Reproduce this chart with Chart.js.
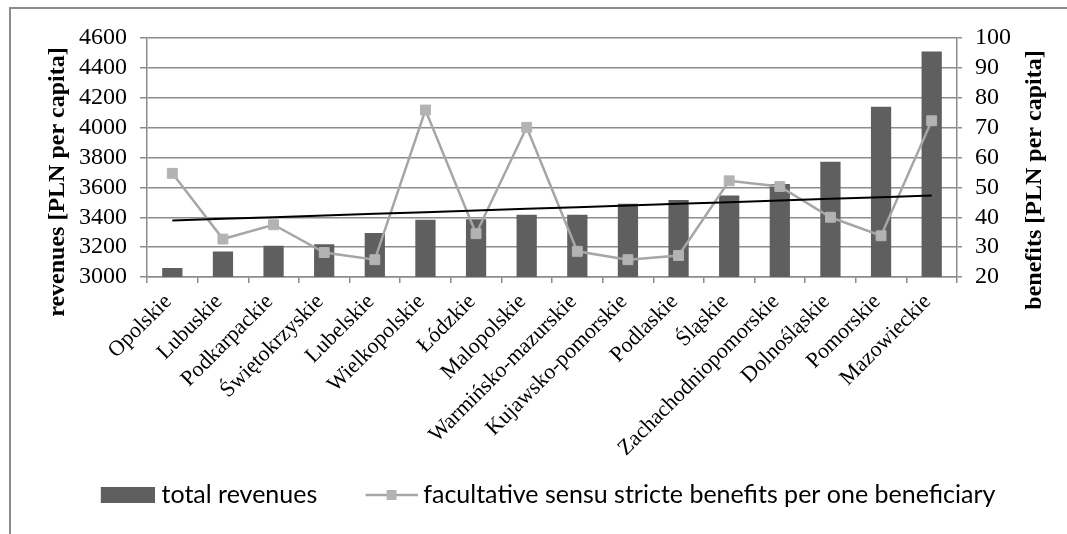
<!DOCTYPE html>
<html>
<head>
<meta charset="utf-8">
<script src="https://cdn.jsdelivr.net/npm/chart.js@4.4.1/dist/chart.umd.min.js"></script>
<style>
  html, body { margin: 0; padding: 0; background: #ffffff; }
  #wrap { position: relative; width: 1067px; height: 534px; }
</style>
</head>
<body>
<div id="wrap"><canvas id="chart"></canvas></div>
<script>
// Voivodeships, ordered by total revenues
const regions = [
  'Opolskie', 'Lubuskie', 'Podkarpackie', 'Świętokrzyskie', 'Lubelskie',
  'Wielkopolskie', 'Łódzkie', 'Malopolskie', 'Warmińsko-mazurskie',
  'Kujawsko-pomorskie', 'Podlaskie', 'Śląskie', 'Zachachodniopomorskie',
  'Dolnośląskie', 'Pomorskie', 'Mazowieckie'
];

// total revenues [PLN per capita]
const totalRevenues = [
  3060, 3171, 3209, 3220, 3294, 3383, 3387, 3416,
  3416, 3490, 3516, 3545, 3623, 3772, 4140, 4509
];

// facultative sensu stricte benefits per one beneficiary [PLN per capita]
const benefitsPerBeneficiary = [
  54.7, 32.7, 37.5, 28.2, 25.8, 75.9, 34.5, 70.1,
  28.6, 25.8, 27.2, 52.2, 50.3, 40.0, 33.8, 72.3
];

const revenueTicks = [3000, 3200, 3400, 3600, 3800, 4000, 4200, 4400, 4600];
const benefitTicks = [20, 30, 40, 50, 60, 70, 80, 90, 100];

const seriesNames = ['total revenues', 'facultative sensu stricte benefits per one beneficiary'];
const axisTitles = ['revenues [PLN per capita]', 'benefits [PLN per capita]'];

const BAR = '#5f5f5f';
const LINE = '#a6a6a6';
const MARKER = '#b3b3b3';
const GRID = '#8c8c8c';
const SERIF = '"Liberation Serif", "Times New Roman", serif';

// least-squares linear trend of a series, evaluated at each category
function linearTrend(values) {
  const n = values.length;
  const mx = (n - 1) / 2;
  const my = values.reduce((a, b) => a + b, 0) / n;
  let sxy = 0, sxx = 0;
  values.forEach((v, i) => { sxy += (i - mx) * (v - my); sxx += (i - mx) * (i - mx); });
  const slope = sxy / sxx;
  return values.map((_, i) => my + slope * (i - mx));
}
const benefitsTrend = linearTrend(benefitsPerBeneficiary);

// legend swatches: the drawn part sits at the right end of a wider transparent image
const LEGEND_BOX = 83.5;
function barSwatch() {
  const c = document.createElement('canvas');
  c.width = 95; c.height = 16;
  const g = c.getContext('2d');
  g.fillStyle = BAR;
  g.fillRect(41, 0, 54, 16);
  return c;
}
function lineSwatch() {
  const c = document.createElement('canvas');
  c.width = 97; c.height = 12;
  const g = c.getContext('2d');
  g.strokeStyle = LINE; g.lineWidth = 2.5;
  g.beginPath(); g.moveTo(45, 6); g.lineTo(97, 6); g.stroke();
  g.fillStyle = MARKER;
  g.fillRect(66, 1, 10, 10);
  return c;
}

const frameAndTitles = {
  id: 'frameAndTitles',
  beforeDraw(chart) {
    const ctx = chart.ctx;
    ctx.save();
    ctx.strokeStyle = GRID;
    ctx.lineWidth = 2;
    ctx.beginPath();
    ctx.moveTo(10, chart.height);
    ctx.lineTo(10, 8);
    ctx.lineTo(chart.width, 8);
    ctx.stroke();
    ctx.restore();
  },
  afterDraw(chart) {
    const ctx = chart.ctx;
    const area = chart.chartArea;
    ctx.save();
    ctx.fillStyle = '#000';
    ctx.font = 'bold 24px ' + SERIF;
    ctx.textAlign = 'center';
    ctx.textBaseline = 'alphabetic';
    const put = (text, x, y) => {
      ctx.save();
      ctx.translate(x, y);
      ctx.rotate(-Math.PI / 2);
      ctx.fillText(text, 0, 0);
      ctx.restore();
    };
    put(axisTitles[0], area.left - 83, area.top + 144);
    put(axisTitles[1], area.right + 84, area.top + 142);
    ctx.restore();
  }
};

const plainNumber = (v) => String(v);

new Chart(document.getElementById('chart'), {
  type: 'bar',
  data: {
    labels: regions,
    datasets: [
      {
        type: 'line',
        label: 'trend',
        data: benefitsTrend,
        yAxisID: 'y1',
        borderColor: '#000000',
        borderWidth: 2,
        pointRadius: 0,
        fill: false,
        order: 0
      },
      {
        type: 'line',
        label: seriesNames[1],
        data: benefitsPerBeneficiary,
        yAxisID: 'y1',
        borderColor: LINE,
        borderWidth: 2.5,
        pointStyle: 'rect',
        pointRadius: 7,
        pointBackgroundColor: MARKER,
        pointBorderColor: MARKER,
        pointBorderWidth: 1,
        fill: false,
        tension: 0,
        order: 1
      },
      {
        type: 'bar',
        label: seriesNames[0],
        data: totalRevenues,
        yAxisID: 'y',
        backgroundColor: BAR,
        borderWidth: 0,
        barPercentage: 0.4,
        categoryPercentage: 1.0,
        order: 2
      }
    ]
  },
  options: {
    responsive: true,
    maintainAspectRatio: false,
    animation: false,
    devicePixelRatio: 1,
    layout: { padding: { left: 0, right: 6, top: 38, bottom: 16.5 } },
    plugins: {
      tooltip: { enabled: false },
      legend: {
        position: 'bottom',
        onClick: null,
        labels: {
          usePointStyle: true,
          pointStyleWidth: LEGEND_BOX,
          padding: 10,
          color: '#000',
          font: { family: 'Lato, "Open Sans", sans-serif', size: 25 },
          generateLabels: () => [
            { text: seriesNames[0], pointStyle: barSwatch(), fillStyle: BAR, strokeStyle: BAR, lineWidth: 0, hidden: false, datasetIndex: 2, fontColor: '#000' },
            { text: seriesNames[1], pointStyle: lineSwatch(), fillStyle: MARKER, strokeStyle: LINE, lineWidth: 0, hidden: false, datasetIndex: 1, fontColor: '#000' }
          ]
        }
      }
    },
    scales: {
      x: {
        offset: true,
        grid: { display: true, offset: true, drawOnChartArea: false, drawTicks: true, tickLength: 6, color: GRID, tickColor: GRID, lineWidth: 1.5 },
        border: { display: true, color: GRID, width: 1.5 },
        ticks: { color: '#000', font: { family: SERIF, size: 22 }, minRotation: 45, maxRotation: 45, autoSkip: false, padding: 6, labelOffset: -4 },
        afterFit(s) { s.height = 195.5; }
      },
      y: {
        position: 'left',
        min: revenueTicks[0],
        max: revenueTicks[revenueTicks.length - 1],
        ticks: { stepSize: revenueTicks[1] - revenueTicks[0], autoSkip: false, callback: plainNumber, color: '#000', font: { family: SERIF, size: 24 }, padding: 13 },
        grid: { color: GRID, tickColor: GRID, lineWidth: 1.5, tickLength: 7, drawTicks: true },
        border: { display: true, color: GRID, width: 1.5 },
        afterFit(s) { s.width = 147; }
      },
      y1: {
        position: 'right',
        min: benefitTicks[0],
        max: benefitTicks[benefitTicks.length - 1],
        ticks: { stepSize: benefitTicks[1] - benefitTicks[0], autoSkip: false, callback: plainNumber, color: '#000', font: { family: SERIF, size: 24 }, padding: 13 },
        grid: { drawOnChartArea: false, color: GRID, tickColor: GRID, lineWidth: 1.5, tickLength: 5, drawTicks: true },
        border: { display: true, color: GRID, width: 1.5 },
        afterFit(s) { s.width = 104; }
      }
    }
  },
  plugins: [frameAndTitles]
});
</script>
</body>
</html>
